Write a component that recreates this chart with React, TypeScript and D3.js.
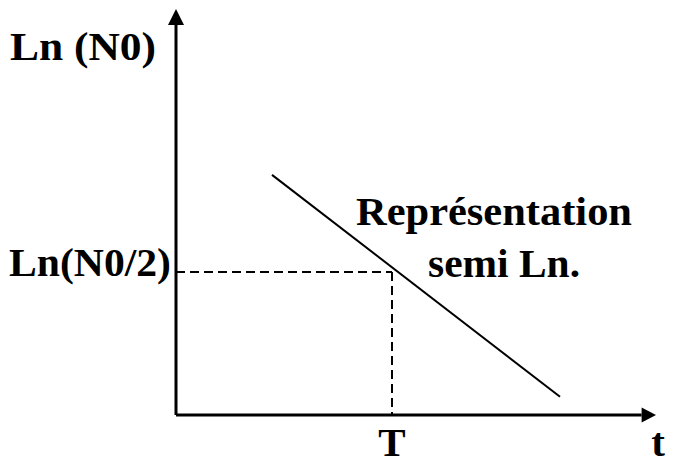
import React from "react";
import * as d3 from "d3";

const lineT = [20, 80];
const lineLn = [59.3, 4.5];
const halfT = [45];
const halfLn = [35.3];
const yLabels = ["Ln (N0)", "Ln(N0/2)"];
const xLabels = ["T", "t"];
const curveLabel = ["Représentation", "semi Ln."];

const W = 673;
const H = 464;

export default function App() {
  const x = d3.scaleLinear().domain([0, 100]).range([176, 656]);
  const y = d3.scaleLinear().domain([0, 100]).range([415, 10]);
  const line = d3
    .line<number>()
    .x((d, i) => x(lineT[i]))
    .y((d) => y(d));
  const font = "'Liberation Serif', 'Times New Roman', serif";
  const ts = { fontFamily: font, fontWeight: 700, fontSize: 41, fill: "#000" } as const;
  return (
    <svg width={W} height={H} style={{ position: "absolute", left: 0, top: 0 }}>
      <rect width={W} height={H} fill="#fff" />
      {/* axes */}
      <line x1={x(0)} y1={y(0)} x2={x(0)} y2={y(96.3)} stroke="#000" strokeWidth={3} />
      <path d={`M${x(0)},${y(100) - 1} L${x(0) - 8},${y(96.3)} L${x(0) + 8},${y(96.3)} Z`} fill="#000" />
      <line x1={x(0)} y1={y(0)} x2={x(97)} y2={y(0)} stroke="#000" strokeWidth={3} />
      <path d={`M${x(100)},${y(0)} L${x(97)},${y(0) - 7.5} L${x(97)},${y(0) + 7.5} Z`} fill="#000" />
      {/* dashed guides */}
      <line x1={x(0)} y1={y(halfLn[0])} x2={x(halfT[0])} y2={y(halfLn[0])} stroke="#000" strokeWidth={2} strokeDasharray="9,5" />
      <line x1={x(halfT[0])} y1={y(halfLn[0])} x2={x(halfT[0])} y2={y(0)} stroke="#000" strokeWidth={2} strokeDasharray="9,5" />
      {/* line */}
      <path d={line(lineLn) || ""} stroke="#000" strokeWidth={2} fill="none" />
      {/* labels */}
      <text x={10} y={60} textLength={146} lengthAdjust="spacingAndGlyphs" style={ts}>{yLabels[0]}</text>
      <text x={9} y={276} textLength={162} lengthAdjust="spacingAndGlyphs" style={ts}>{yLabels[1]}</text>
      <text x={356} y={225} textLength={276} lengthAdjust="spacingAndGlyphs" style={ts}>{curveLabel[0]}</text>
      <text x={428} y={277} textLength={152} lengthAdjust="spacingAndGlyphs" style={ts}>{curveLabel[1]}</text>
      <text x={x(halfT[0])} y={456} textAnchor="middle" style={ts}>{xLabels[0]}</text>
      <text x={658} y={456} textAnchor="middle" style={ts}>{xLabels[1]}</text>
    </svg>
  );
}
